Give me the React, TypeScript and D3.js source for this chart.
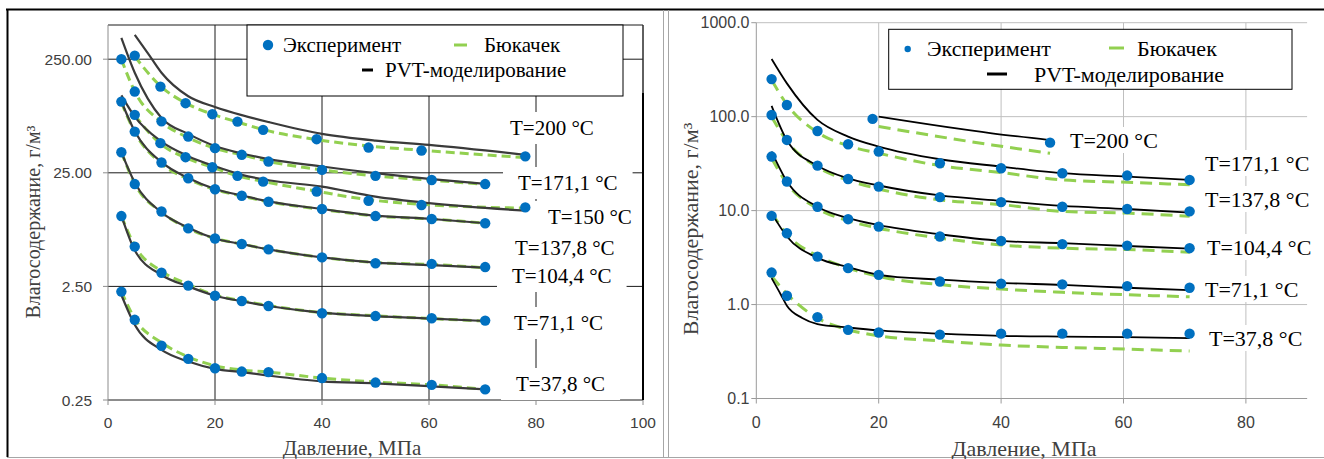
import React from 'react';
import * as d3 from 'd3';

// ---------------- DATA: left panel ----------------
const L_P_A = [5, 9.8, 14.5, 19.5, 24.2, 29, 39, 48.7, 58.6, 78];
const L_P_B = [2.5, 5, 10, 15, 20, 25, 30, 40, 50, 60.5, 70.5];
const L_P_PVT200 = [5, 7.5, 10, 15, 20, 25, 30, 40, 50, 60, 78];
const L_P_PVT150 = [2.5, 5, 10, 15, 20, 25, 30, 40, 50, 60, 78];

const L_EXP_200 = [269, 143.5, 102.5, 82, 70.6, 59.7, 49.4, 41.7, 39.3, 34.9];
const L_EXP_171 = [250, 129.7, 70.9, 52.1, 41.2, 36, 31.4, 26.5, 23.5, 21.6, 19.9];
const L_EXP_150 = [80.9, 45.6, 34.3, 28, 23.5, 20.9, 17.1, 14.2, 13.0, 12.4];
const L_EXP_137 = [105.9, 57.6, 30.8, 22.4, 17.9, 15.7, 13.9, 12.0, 10.4, 9.8, 9.0];
const L_EXP_104 = [37.9, 19.9, 11.4, 8.1, 6.6, 5.9, 5.3, 4.5, 4.0, 3.95, 3.7];
const L_EXP_71 = [10.4, 5.6, 3.3, 2.54, 2.07, 1.86, 1.68, 1.45, 1.37, 1.31, 1.25];
const L_EXP_37 = [2.25, 1.27, 0.75, 0.575, 0.476, 0.445, 0.44, 0.39, 0.356, 0.34, 0.31];

const L_PVT_200 = [409, 280, 190, 118, 95, 80.5, 70, 55, 48, 44, 36];
const L_PVT_171 = [385, 190, 76, 55, 43, 37, 33, 28.4, 24.8, 22, 20];
const L_PVT_150 = [120, 78, 47, 35, 28.5, 24, 21.5, 18.9, 15.4, 13.5, 11.6];
const L_PVT_137 = [106, 58, 31, 22.5, 18, 15.8, 14, 12, 10.5, 9.8, 9.0];
const L_PVT_104 = [38, 20.5, 11.2, 8.2, 6.6, 5.9, 5.3, 4.5, 4.05, 3.85, 3.65];
const L_PVT_71 = [10.5, 5.2, 3.15, 2.5, 2.07, 1.85, 1.68, 1.47, 1.37, 1.3, 1.24];
const L_PVT_37 = [2.1, 1.15, 0.69, 0.545, 0.47, 0.44, 0.41, 0.365, 0.35, 0.33, 0.31];

const L_BUK_200 = [265, 145, 103, 82, 70, 60, 49, 43, 39.5, 34];
const L_BUK_171 = [250, 130, 70, 51, 41, 36, 31.5, 26.5, 23.5, 21.5, 19.8];
const L_BUK_150 = [80, 45, 34, 28, 23.5, 21, 17.2, 14.5, 13.2, 12.2];
const L_BUK_137 = [104, 57, 30, 22, 17.8, 15.6, 13.9, 11.9, 10.4, 9.8, 9.0];
const L_BUK_104 = [38, 20, 11.2, 8.1, 6.6, 5.9, 5.3, 4.5, 4.05, 3.9, 3.65];
const L_BUK_71 = [10.4, 5.7, 3.4, 2.6, 2.1, 1.87, 1.7, 1.47, 1.38, 1.3, 1.24];
const L_BUK_37 = [2.25, 1.3, 0.8, 0.6, 0.5, 0.46, 0.44, 0.39, 0.36, 0.34, 0.31];

const L_X_TICKS = [0, 20, 40, 60, 80, 100];
const L_Y_TICKS = [0.25, 2.5, 25, 250];
const L_Y_LABELS = ['0.25', '2.50', '25.00', '250.00'];

// ---------------- DATA: right panel ----------------
const R_P = [2.5, 5, 10, 15, 20, 30, 40, 50, 60.6, 70.8];
const R_P_EXP200 = [19, 48];
const R_P_LINE200 = [20, 38.5, 48];
const R_P_PVT37 = [2.5, 4, 5, 7.5, 10, 15, 20, 30, 40, 50, 60.6, 70.8];

const R_EXP_200 = [94.6, 52.9];
const R_EXP_171 = [251, 133, 70.4, 50.9, 42.5, 31.9, 28.2, 25, 23.6, 21.2];
const R_EXP_137 = [104, 56.5, 30.1, 21.7, 18, 13.9, 12.3, 11.0, 10.4, 9.8];
const R_EXP_104 = [37.6, 20.4, 11.0, 8.1, 6.76, 5.3, 4.76, 4.4, 4.24, 3.98];
const R_EXP_71 = [8.78, 5.74, 3.24, 2.44, 2.07, 1.76, 1.67, 1.64, 1.57, 1.51];
const R_EXP_37 = [2.19, 1.24, 0.734, 0.538, 0.504, 0.478, 0.49, 0.49, 0.49, 0.49];

const R_PVT_200 = [100, 66.5, 56.3];
const R_PVT_171 = [411, 226, 92.3, 61.4, 48, 35.2, 29.4, 25, 23, 21.2];
const R_PVT_137 = [130, 56, 30, 22, 18.5, 14.5, 12.7, 11.2, 10.4, 9.5];
const R_PVT_104 = [42.5, 20.5, 11, 8.3, 7, 5.6, 4.76, 4.5, 4.2, 3.94];
const R_PVT_71 = [9.4, 5.3, 3.14, 2.5, 2.07, 1.84, 1.7, 1.62, 1.51, 1.42];
const R_PVT_37 = [1.91, 1.28, 0.97, 0.72, 0.62, 0.57, 0.53, 0.49, 0.465, 0.456, 0.45, 0.44];

const R_BUK_200 = [78.5, 50, 40.8];
const R_BUK_171 = [245, 135, 68, 49, 40.8, 30.1, 25.4, 21.2, 20, 18.8];
const R_BUK_137 = [100, 55, 29, 21, 17, 13, 11.6, 9.8, 9.4, 8.7];
const R_BUK_104 = [36, 19.5, 10.5, 7.8, 6.5, 5.1, 4.3, 3.98, 3.85, 3.6];
const R_BUK_71 = [9.5, 5.6, 3.3, 2.45, 1.99, 1.63, 1.46, 1.35, 1.27, 1.21];
const R_BUK_37 = [2.0, 1.3, 0.716, 0.54, 0.465, 0.41, 0.37, 0.35, 0.335, 0.32];

const R_X_TICKS = [0, 20, 40, 60, 80];
const R_Y_TICKS = [0.1, 1, 10, 100, 1000];

const LABELS = ['T=200 °C', 'T=171,1 °C', 'T=150 °C', 'T=137,8 °C', 'T=104,4 °C', 'T=71,1 °C', 'T=37,8 °C'];
const LEG_EXP = 'Эксперимент';
const LEG_BUK = 'Бюкачек';
const LEG_PVT = 'PVT-моделирование';
const X_TITLE = 'Давление, МПа';
const Y_TITLE = 'Влагосодержание, г/м³';

type S = { expP: number[]; exp: number[]; pvtP: number[]; pvt: number[]; bukP: number[]; buk: number[]; label: string };

const LEFT_SERIES: S[] = [
  { expP: L_P_A, exp: L_EXP_200, pvtP: L_P_PVT200, pvt: L_PVT_200, bukP: L_P_A, buk: L_BUK_200, label: LABELS[0] },
  { expP: L_P_B, exp: L_EXP_171, pvtP: L_P_B, pvt: L_PVT_171, bukP: L_P_B, buk: L_BUK_171, label: LABELS[1] },
  { expP: L_P_A, exp: L_EXP_150, pvtP: L_P_PVT150, pvt: L_PVT_150, bukP: L_P_A, buk: L_BUK_150, label: LABELS[2] },
  { expP: L_P_B, exp: L_EXP_137, pvtP: L_P_B, pvt: L_PVT_137, bukP: L_P_B, buk: L_BUK_137, label: LABELS[3] },
  { expP: L_P_B, exp: L_EXP_104, pvtP: L_P_B, pvt: L_PVT_104, bukP: L_P_B, buk: L_BUK_104, label: LABELS[4] },
  { expP: L_P_B, exp: L_EXP_71, pvtP: L_P_B, pvt: L_PVT_71, bukP: L_P_B, buk: L_BUK_71, label: LABELS[5] },
  { expP: L_P_B, exp: L_EXP_37, pvtP: L_P_B, pvt: L_PVT_37, bukP: L_P_B, buk: L_BUK_37, label: LABELS[6] },
];

const RIGHT_SERIES: S[] = [
  { expP: R_P_EXP200, exp: R_EXP_200, pvtP: R_P_LINE200, pvt: R_PVT_200, bukP: R_P_LINE200, buk: R_BUK_200, label: LABELS[0] },
  { expP: R_P, exp: R_EXP_171, pvtP: R_P, pvt: R_PVT_171, bukP: R_P, buk: R_BUK_171, label: LABELS[1] },
  { expP: R_P, exp: R_EXP_137, pvtP: R_P, pvt: R_PVT_137, bukP: R_P, buk: R_BUK_137, label: LABELS[3] },
  { expP: R_P, exp: R_EXP_104, pvtP: R_P, pvt: R_PVT_104, bukP: R_P, buk: R_BUK_104, label: LABELS[4] },
  { expP: R_P, exp: R_EXP_71, pvtP: R_P, pvt: R_PVT_71, bukP: R_P, buk: R_BUK_71, label: LABELS[5] },
  { expP: R_P, exp: R_EXP_37, pvtP: R_P_PVT37, pvt: R_PVT_37, bukP: R_P, buk: R_BUK_37, label: LABELS[6] },
];

// ---------------- LAYOUT ----------------
const LEFT = {
  left: 108, right: 643, top: 25, bottom: 400,
  xDomain: [0, 100], yDomain: [0.25, 500],
  yTickLabels: L_Y_LABELS, xTicks: L_X_TICKS, yTicks: L_Y_TICKS,
  grid: '#1a1a1a', axis: '#8c8c8c', pvtColor: '#3a3a3a', pvtWidth: 2.2, dash: '9,5',
  tickFont: 15.5, tickLabelX: 92, xTickY: 428,
  serif: 21, labelPos: [[510, 128], [518, 183], [548, 217], [515, 248], [512, 276], [514, 323], [516, 384]],
  boxPadX: 15, boxPadY: 16,
  legend: { x: 247, y: 25, w: 376, h: 71, dot: [268, 45], dotR: 5.2, expX: 283, row1: 45, buk: [454, 467], bukX: 484, pvt: [362, 373], pvtX: 385, row2: 70 },
  xTitle: [352, 448], yTitle: [33, 222], yTitleSize: 20, r: 5.2,
  topBorder: true,
};

const RIGHT = {
  left: 756.3, right: 1307.1, top: 22.7, bottom: 398.5,
  xDomain: [0, 90], yDomain: [0.1, 1000],
  yTickLabels: R_Y_TICKS.map((v) => d3.format('.1f')(v)), xTicks: R_X_TICKS, yTicks: R_Y_TICKS,
  grid: '#bfbfbf', axis: '#9a9a9a', pvtColor: '#000000', pvtWidth: 1.8, dash: '12,7',
  tickFont: 16, tickLabelX: 749.5, xTickY: 428,
  serif: 22, labelPos: [[1070, 140], [1205, 163], [1205, 199], [1207, 247], [1205, 289], [1209, 338]],
  boxPadX: 10, boxPadY: 13,
  legend: { x: 888.7, y: 29.3, w: 403.3, h: 60, dot: [907.7, 49], dotR: 3.2, expX: 927, row1: 48, buk: [1109, 1124], bukX: 1137, pvt: [987, 1007], pvtX: 1034, row2: 74 },
  xTitle: [1024, 448], yTitle: [690, 229], yTitleSize: 22, r: 5.2,
  topBorder: false,
};

let _ctx: CanvasRenderingContext2D | null = null;
function textWidth(t: string, font: string) {
  if (!_ctx) _ctx = document.createElement('canvas').getContext('2d');
  if (!_ctx) return t.length * 10;
  _ctx.font = font;
  return _ctx.measureText(t).width;
}

const SERIF = "'Liberation Serif', 'Times New Roman', serif";
const SANS = "'Liberation Sans', Arial, sans-serif";
const BLUE = '#0070C0';
const GREEN = '#92D050';

function Panel({ cfg, series }: { cfg: any; series: S[] }) {
  const x = d3.scaleLinear().domain(cfg.xDomain).range([cfg.left, cfg.right]);
  const y = d3.scaleLog().domain(cfg.yDomain).range([cfg.bottom, cfg.top]);
  const mk = (ps: number[], vs: number[]) =>
    d3.line<[number, number]>().x((d) => x(d[0])).y((d) => y(d[1])).curve(d3.curveMonotoneX)(ps.map((p, i) => [p, vs[i]] as [number, number])) || '';
  const L = cfg.legend;
  const labelFont = `${cfg.serif}px ${SERIF}`;
  return (
    <g>
      {cfg.xTicks.filter((t: number) => t > cfg.xDomain[0]).map((t: number) => (
        <line key={'gx' + t} x1={x(t)} x2={x(t)} y1={cfg.top} y2={cfg.bottom} stroke={cfg.grid} strokeWidth={1} />
      ))}
      {cfg.yTicks.map((t: number) => (
        <line key={'gy' + t} x1={cfg.left} x2={cfg.right} y1={y(t)} y2={y(t)} stroke={cfg.grid} strokeWidth={1} />
      ))}
      {cfg.topBorder && (
        <line x1={cfg.left} x2={cfg.right} y1={cfg.top} y2={cfg.top} stroke={cfg.grid} strokeWidth={1} />
      )}
      <line x1={cfg.left} x2={cfg.left} y1={cfg.top} y2={cfg.bottom} stroke={cfg.axis} strokeWidth={1} />
      <line x1={cfg.left} x2={cfg.right} y1={cfg.bottom} y2={cfg.bottom} stroke={cfg.axis} strokeWidth={1} />
      {cfg.xTicks.map((t: number) => (
        <g key={'xt' + t}>
          <line x1={x(t)} x2={x(t)} y1={cfg.bottom} y2={cfg.bottom + 5} stroke={cfg.axis} />
          <text x={x(t)} y={cfg.xTickY} textAnchor="middle" fontFamily={SANS} fontSize={cfg.tickFont} fill="#404040">{t}</text>
        </g>
      ))}
      {cfg.yTicks.map((t: number, i: number) => (
        <g key={'yt' + t}>
          <line x1={cfg.left - 5} x2={cfg.left} y1={y(t)} y2={y(t)} stroke={cfg.axis} />
          <text x={cfg.tickLabelX} y={y(t) + 5.5} textAnchor="end" fontFamily={SANS} fontSize={cfg.tickFont} fill="#404040">{cfg.yTickLabels[i]}</text>
        </g>
      ))}
      {series.map((s, i) => (
        <path key={'b' + i} d={mk(s.bukP, s.buk)} fill="none" stroke={GREEN} strokeWidth={3} strokeDasharray={cfg.dash} />
      ))}
      {series.map((s, i) => (
        <path key={'p' + i} d={mk(s.pvtP, s.pvt)} fill="none" stroke={cfg.pvtColor} strokeWidth={cfg.pvtWidth} />
      ))}
      {series.map((s, i) =>
        s.expP.map((p, j) => <circle key={'e' + i + '_' + j} cx={x(p)} cy={y(s.exp[j])} r={cfg.r} fill={BLUE} />)
      )}
      {series.map((s, i) => {
        const [lx, ly] = cfg.labelPos[i];
        const w = textWidth(s.label, labelFont);
        return (
          <g key={'l' + i}>
            <rect x={lx - cfg.boxPadX} y={ly - cfg.boxPadY} width={w + 2 * cfg.boxPadX} height={2 * cfg.boxPadY} fill="#fff" />
            <text x={lx} y={ly} dominantBaseline="central" fontFamily={SERIF} fontSize={cfg.serif} fill="#000">{s.label}</text>
          </g>
        );
      })}
      {cfg.topBorder && (
        <>
          <line x1={cfg.right} x2={cfg.right} y1={cfg.top} y2={cfg.bottom} stroke="#333" strokeWidth={1} />
          <line x1={cfg.right} x2={cfg.right} y1={93} y2={cfg.bottom} stroke="#000" strokeWidth={2} />
        </>
      )}
      <rect x={L.x} y={L.y} width={L.w} height={L.h} fill="#fff" stroke="#000" strokeWidth={1} />
      <circle cx={L.dot[0]} cy={L.dot[1]} r={L.dotR} fill={BLUE} />
      <text x={L.expX} y={L.row1} dominantBaseline="central" fontFamily={SERIF} fontSize={cfg.serif}>{LEG_EXP}</text>
      <line x1={L.buk[0]} x2={L.buk[1]} y1={L.row1} y2={L.row1} stroke={GREEN} strokeWidth={3} />
      <text x={L.bukX} y={L.row1} dominantBaseline="central" fontFamily={SERIF} fontSize={cfg.serif}>{LEG_BUK}</text>
      <line x1={L.pvt[0]} x2={L.pvt[1]} y1={L.row2} y2={L.row2} stroke="#000" strokeWidth={3} />
      <text x={L.pvtX} y={L.row2} dominantBaseline="central" fontFamily={SERIF} fontSize={cfg.serif}>{LEG_PVT}</text>
      <text x={cfg.xTitle[0]} y={cfg.xTitle[1]} textAnchor="middle" dominantBaseline="central" fontFamily={SERIF} fontSize={cfg.serif} fill="#404040">{X_TITLE}</text>
      <text transform={`translate(${cfg.yTitle[0]},${cfg.yTitle[1]}) rotate(-90)`} textAnchor="middle" dominantBaseline="central" fontFamily={SERIF} fontSize={cfg.yTitleSize} fill="#404040">{Y_TITLE}</text>
    </g>
  );
}

export default function App() {
  return (
    <svg width={1324} height={459} style={{ position: 'absolute', left: 0, top: 0, background: '#fff' }}>
      <rect x={0} y={0} width={1324} height={459} fill="#fff" />
      <line x1={6} x2={1324} y1={9.5} y2={9.5} stroke="#000" strokeWidth={2} />
      <line x1={7.5} x2={7.5} y1={9} y2={457} stroke="#000" strokeWidth={2} />
      <line x1={663.5} x2={663.5} y1={10} y2={457} stroke="#a6a6a6" strokeWidth={1} />
      <line x1={668.5} x2={668.5} y1={10} y2={457} stroke="#a6a6a6" strokeWidth={1} />
      <line x1={7} x2={1324} y1={457.5} y2={457.5} stroke="#a6a6a6" strokeWidth={1} />
      <Panel cfg={LEFT} series={LEFT_SERIES} />
      <Panel cfg={RIGHT} series={RIGHT_SERIES} />
    </svg>
  );
}
